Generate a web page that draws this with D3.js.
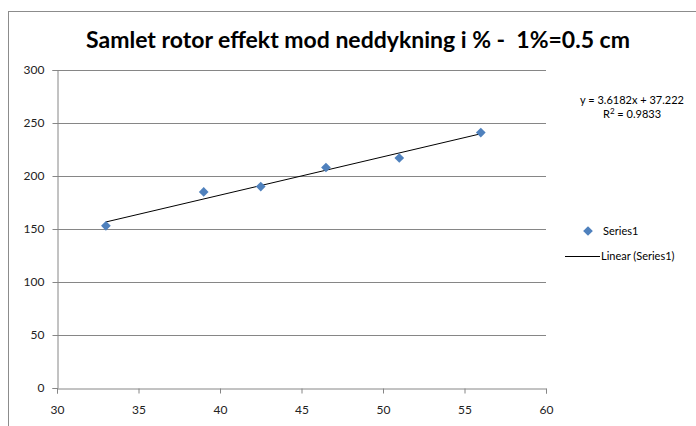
<!DOCTYPE html>
<html>
<head>
<meta charset="utf-8">
<script src="https://cdn.jsdelivr.net/npm/d3@7"></script>
<style>
  body { margin: 0; background: #fff; }
  text { font-family: Lato, "Open Sans", sans-serif; }
</style>
</head>
<body>
<div id="chart"></div>
<script>
// data
const xValues = [33, 39, 42.5, 46.5, 51, 56];
const yValues = [153, 185, 190, 208, 217, 241];
const xTicks = [30, 35, 40, 45, 50, 55, 60];
const yTicks = [0, 50, 100, 150, 200, 250, 300];
const trendSlope = 3.6182;
const trendIntercept = 37.222;
const titleText = "Samlet rotor effekt mod neddykning i % -  1%=0.5 cm";
const eqText = "y = 3.6182x + 37.222";
const r2Text = "0.9833";

const W = 696, H = 426;
const plot = { left: 57, right: 546, top: 70, bottom: 388 };

const svg = d3.select("#chart").append("svg")
    .attr("width", W).attr("height", H);

// outer chart border (runs off the right and bottom)
svg.append("rect")
    .attr("x", 8.5).attr("y", 11.5)
    .attr("width", 720).attr("height", 440)
    .attr("fill", "none").attr("stroke", "#8c8c8c");

const x = d3.scaleLinear().domain([30, 60]).range([plot.left, plot.right]);
const y = d3.scaleLinear().domain([0, 300]).range([plot.bottom, plot.top]);

// gridlines
svg.append("g").selectAll("line")
    .data(yTicks.filter(d => d > 0))
    .join("line")
    .attr("x1", plot.left).attr("x2", plot.right)
    .attr("y1", d => Math.round(y(d)) + 0.5).attr("y2", d => Math.round(y(d)) + 0.5)
    .attr("stroke", "#868686");

// axes
const yAxis = svg.append("g")
    .attr("transform", `translate(${plot.left + 0.5},0)`)
    .call(d3.axisLeft(y).tickValues(yTicks).tickSize(5).tickPadding(8));
const xAxis = svg.append("g")
    .attr("transform", `translate(0,${plot.bottom + 0.5})`)
    .call(d3.axisBottom(x).tickValues(xTicks).tickSize(5).tickPadding(12));

[yAxis, xAxis].forEach(a => {
    a.select(".domain").attr("stroke", "#868686");
    a.selectAll(".tick line").attr("stroke", "#868686");
    a.selectAll(".tick text")
        .attr("fill", "#222")
        .style("font-size", "12px")
        .style("font-family", "Lato, sans-serif");
});

// trendline
const xMin = d3.min(xValues), xMax = d3.max(xValues);
svg.append("line")
    .attr("x1", x(xMin)).attr("y1", y(trendSlope * xMin + trendIntercept))
    .attr("x2", x(xMax)).attr("y2", y(trendSlope * xMax + trendIntercept))
    .attr("stroke", "#000").attr("stroke-width", 1);

// points
const diamond = d3.symbol().type(d3.symbolDiamond2).size(60);
svg.append("g").selectAll("path")
    .data(xValues.map((v, i) => [v, yValues[i]]))
    .join("path")
    .attr("d", diamond)
    .attr("transform", d => `translate(${x(d[0])},${y(d[1])})`)
    .attr("fill", "#4f81bd");

// title
svg.append("text")
    .attr("x", 358).attr("y", 48)
    .attr("text-anchor", "middle")
    .style("font-size", "23px")
    .style("font-weight", "bold")
    .style("white-space", "pre")
    .attr("fill", "#000")
    .text(titleText);

// equation
const eq = svg.append("text")
    .attr("text-anchor", "middle")
    .style("font-size", "11px")
    .attr("fill", "#000");
eq.append("tspan").attr("x", 632).attr("y", 104).text(eqText);
const r2 = eq.append("tspan").attr("x", 632).attr("y", 118);
r2.append("tspan").text("R");
r2.append("tspan").attr("dy", -4).style("font-size", "8px").text("2");
r2.append("tspan").attr("dy", 4).text(" = " + r2Text);

// legend
svg.append("path")
    .attr("d", diamond)
    .attr("transform", "translate(588,231)")
    .attr("fill", "#4f81bd");
svg.append("text")
    .attr("x", 603).attr("y", 235)
    .style("font-size", "11px")
    .text("Series1");
svg.append("line")
    .attr("x1", 565).attr("x2", 600)
    .attr("y1", 256.5).attr("y2", 256.5)
    .attr("stroke", "#000");
svg.append("text")
    .attr("x", 601).attr("y", 260)
    .style("font-size", "11px")
    .text("Linear (Series1)");
</script>
</body>
</html>
